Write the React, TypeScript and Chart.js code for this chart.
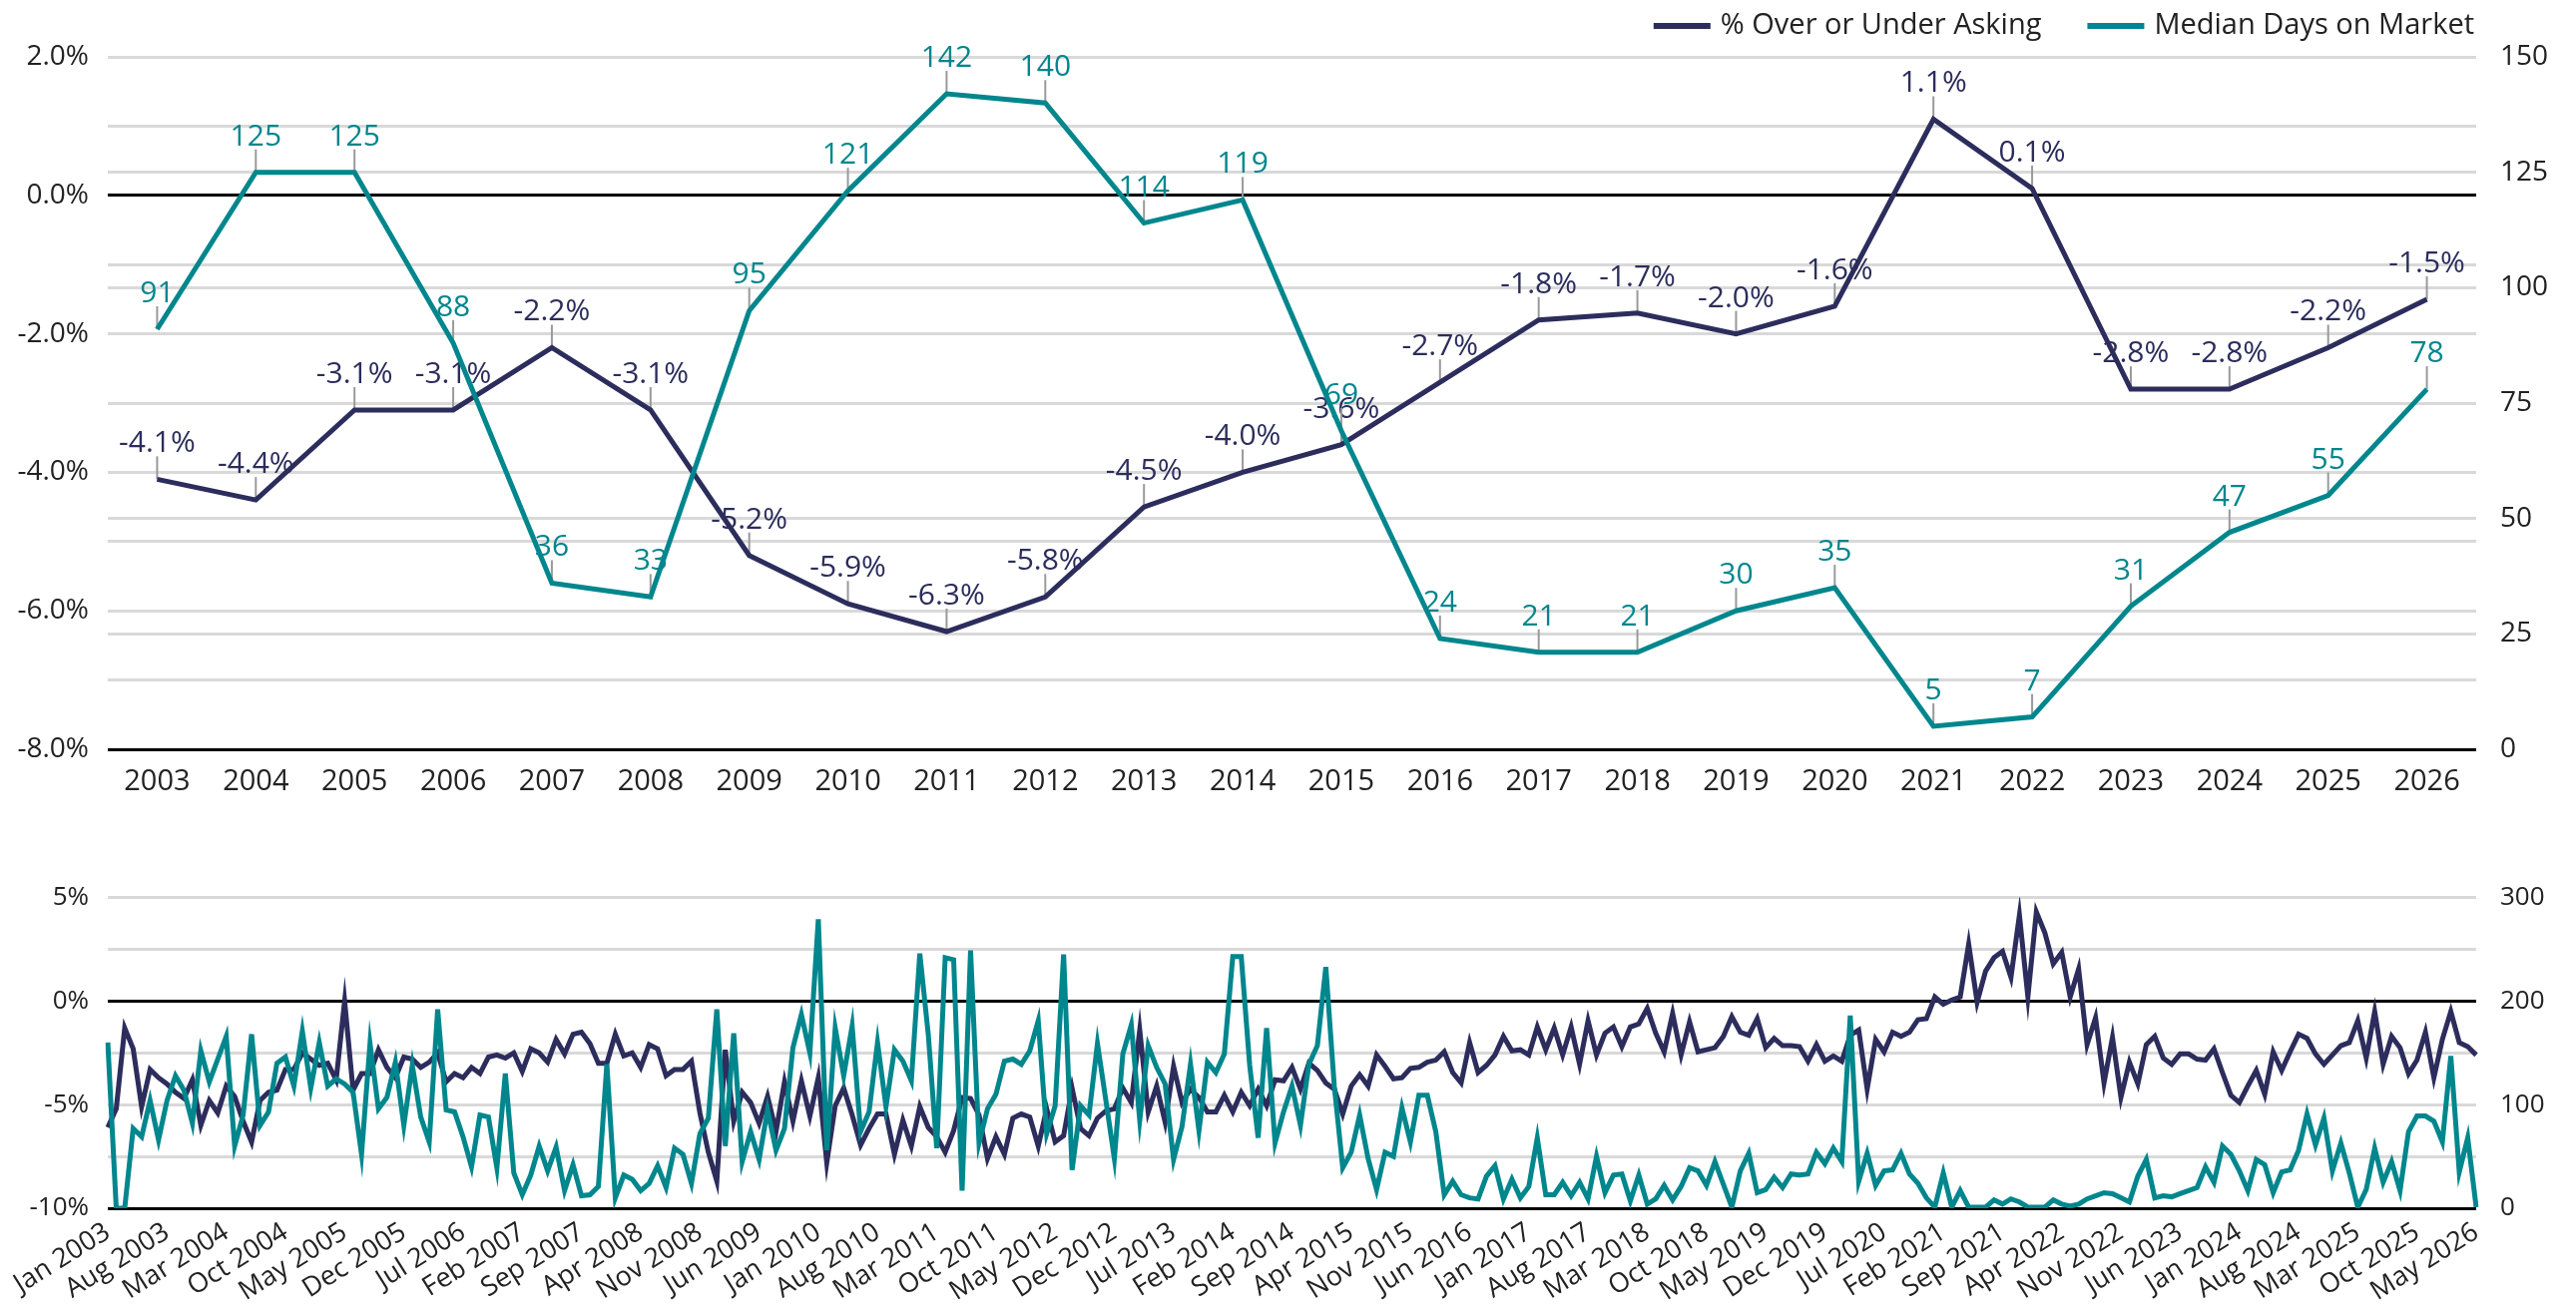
import React, { useEffect, useRef } from 'react';
import { Chart, registerables } from 'chart.js';

Chart.register(...registerables);

const FONT = "'Open Sans', 'Noto Sans', sans-serif";
const NAVY = '#2C2D5C';
const TEAL = '#00868D';
const GRID = '#D9D9D9';
const TEXT = '#222222';

const SERIES_NAMES = ['% Over or Under Asking', 'Median Days on Market'];

// ---- Annual (top chart) ----
const YEARS = ['2003', '2004', '2005', '2006', '2007', '2008', '2009', '2010', '2011', '2012', '2013', '2014',
  '2015', '2016', '2017', '2018', '2019', '2020', '2021', '2022', '2023', '2024', '2025', '2026'];
const OVER_ASKING_ANNUAL = [-4.1, -4.4, -3.1, -3.1, -2.2, -3.1, -5.2, -5.9, -6.3, -5.8, -4.5, -4.0,
  -3.6, -2.7, -1.8, -1.7, -2.0, -1.6, 1.1, 0.1, -2.8, -2.8, -2.2, -1.5];
const DAYS_ANNUAL = [91, 125, 125, 88, 36, 33, 95, 121, 142, 140, 114, 119,
  69, 24, 21, 21, 30, 35, 5, 7, 31, 47, 55, 78];
const LEFT_TICKS_TOP = { min: -8, max: 2, step: 1, labelEvery: 2 };
const RIGHT_TICKS_TOP = { min: 0, max: 150, step: 25 };

// ---- Monthly (bottom chart) ----
const MONTH_NAMES = ['Jan', 'Feb', 'Mar', 'Apr', 'May', 'Jun', 'Jul', 'Aug', 'Sep', 'Oct', 'Nov', 'Dec'];
const START_YEAR = 2003;
const LABEL_EVERY_N_MONTHS = 7;
const OVER_ASKING_MONTHLY = [
  -6.1, -5.2, -1.3, -2.3, -5.1, -3.3, -3.7, -4.0, -4.4, -4.7, -3.8, -6.0,
  -4.8, -5.4, -4.1, -4.6, -5.8, -6.8, -4.8, -4.4, -4.3, -3.3, -3.3, -2.5,
  -2.8, -3.1, -3.0, -3.8, 0.0, -4.3, -3.5, -3.5, -2.35, -3.2, -3.7, -2.7,
  -2.8, -3.2, -2.95, -2.5, -3.9, -3.5, -3.7, -3.2, -3.5, -2.7, -2.6, -2.75,
  -2.5, -3.4, -2.3, -2.5, -2.95, -1.85, -2.55, -1.6, -1.5, -2.05, -3.0, -3.0,
  -1.6, -2.65, -2.5, -3.2, -2.1, -2.3, -3.6, -3.3, -3.3, -2.9, -5.4, -7.3,
  -8.7, -2.35, -5.8, -4.4, -4.9, -5.9, -4.6, -6.3, -3.9, -5.8, -3.85, -5.55,
  -3.7, -7.8, -5.05, -4.2, -5.5, -6.95, -6.15, -5.45, -5.45, -7.4, -5.75, -7.0,
  -5.1, -6.1, -6.55, -7.3, -6.25, -4.65, -4.7, -5.5, -7.6, -6.55, -7.4, -5.65,
  -5.45, -5.6, -7.0, -5.2, -6.8, -6.5, -4.2, -6.15, -6.5, -5.65, -5.3, -5.2,
  -4.2, -4.9, -1.4, -5.35, -4.1, -5.85, -3.15, -4.9, -4.25, -4.65, -5.35, -5.35,
  -4.55, -5.35, -4.4, -5.05, -4.25, -5.05, -3.8, -3.85, -3.2, -4.25, -3.0, -3.35,
  -3.95, -4.25, -5.45, -4.1, -3.55, -4.1, -2.6, -3.15, -3.75, -3.7, -3.25, -3.2,
  -2.95, -2.85, -2.45, -3.45, -3.95, -2.0, -3.45, -3.1, -2.6, -1.7, -2.4, -2.35,
  -2.6, -1.25, -2.35, -1.3, -2.6, -1.25, -3.05, -0.95, -2.6, -1.55, -1.25, -2.2,
  -1.25, -1.1, -0.35, -1.55, -2.45, -0.6, -2.6, -1.0, -2.45, -2.35, -2.25, -1.7,
  -0.75, -1.5, -1.65, -0.85, -2.25, -1.8, -2.15, -2.15, -2.2, -2.9, -2.1, -2.9,
  -2.65, -2.9, -1.65, -1.4, -4.25, -1.85, -2.45, -1.5, -1.7, -1.5, -0.9, -0.85,
  0.2, -0.15, 0.05, 0.2, 2.75, -0.05, 1.45, 2.1, 2.4, 1.15, 4.15, 0.2,
  4.3, 3.3, 1.8, 2.35, 0.2, 1.55, -2.1, -0.8, -3.95, -1.75, -4.65, -2.95,
  -4.0, -2.1, -1.7, -2.75, -3.05, -2.55, -2.55, -2.8, -2.85, -2.3, -3.45, -4.55,
  -4.9, -4.1, -3.35, -4.5, -2.45, -3.35, -2.45, -1.6, -1.8, -2.55, -3.05, -2.6,
  -2.15, -2.0, -0.95, -2.75, -0.5, -3.05, -1.7, -2.25, -3.5, -2.85, -1.5, -3.7,
  -1.85, -0.5, -2.0, -2.2, -2.6,
];
const DAYS_MONTHLY = [
  160, 0, 0, 77, 69, 104, 66, 104, 128, 114, 82, 152,
  122, 144, 166, 60, 90, 168, 80, 93, 140, 146, 118, 171,
  116, 160, 118, 125, 120, 112, 52, 159, 96, 107, 141, 80,
  138, 88, 64, 192, 95, 93, 69, 40, 90, 88, 39, 130,
  34, 13, 32, 60, 36, 59, 17, 42, 12, 13, 21, 139,
  10, 32, 28, 17, 24, 41, 20, 58, 52, 24, 72, 87,
  192, 60, 169, 45, 74, 47, 95, 56, 77, 155, 187, 150,
  279, 56, 174, 128, 176, 74, 93, 160, 98, 153, 142, 123,
  246, 168, 58, 242, 240, 17, 249, 63, 96, 110, 142, 144,
  139, 152, 181, 72, 99, 245, 37, 99, 90, 159, 104, 48,
  149, 177, 85, 157, 136, 120, 47, 79, 139, 75, 141, 131,
  149, 243, 243, 138, 68, 174, 63, 93, 118, 80, 139, 157,
  233, 118, 39, 54, 90, 48, 18, 54, 50, 97, 64, 109,
  109, 74, 13, 26, 13, 10, 9, 31, 41, 9, 28, 10,
  21, 68, 13, 13, 25, 12, 25, 9, 50, 15, 32, 33,
  7, 32, 4, 9, 22, 8, 21, 39, 36, 22, 45, 23,
  1, 36, 53, 15, 18, 30, 20, 33, 32, 33, 54, 43,
  58, 45, 186, 26, 53, 22, 36, 37, 53, 33, 24, 10,
  1, 34, 1, 17, 1, 1, 1, 8, 4, 9, 6, 1,
  1, 1, 8, 4, 2, 4, 9, 12, 15, 14, 10, 6,
  31, 47, 10, 12, 11, 14, 17, 20, 40, 25, 60, 52,
  36, 17, 47, 42, 15, 35, 37, 56, 91, 61, 87, 36,
  63, 34, 1, 18, 58, 25, 45, 17, 74, 89, 89, 84,
  64, 147, 35, 68, 1,
];
const LEFT_TICKS_BOTTOM = { min: -10, max: 5, step: 2.5, labelEvery: 5 };
const RIGHT_TICKS_BOTTOM = { min: 0, max: 300, step: 100 };

const MONTH_LABELS: string[] = OVER_ASKING_MONTHLY.map(
  (_, i) => `${MONTH_NAMES[i % 12]} ${START_YEAR + Math.floor(i / 12)}`
);

const CANVAS_W = 2581;
const TOP_H = 805;
const BOTTOM_TOP = 860;
const BOTTOM_H = 450;

const legendPlugin = {
  id: 'rightLegend',
  afterDraw(chart: any) {
    const ctx = chart.ctx;
    const area = chart.chartArea;
    ctx.save();
    ctx.font = `400 29px ${FONT}`;
    ctx.textBaseline = 'middle';
    ctx.textAlign = 'left';
    const y = 26;
    const swatch = 57;
    const gapText = 10;
    const gapItem = 46;
    const items = chart.data.datasets.map((ds: any) => ({
      text: ds.label,
      color: ds.borderColor,
      w: ctx.measureText(ds.label).width,
    }));
    const total = items.reduce((s: number, it: any) => s + swatch + gapText + it.w, 0) + gapItem * (items.length - 1);
    let x = area.right - 2 - total;
    items.forEach((it: any) => {
      ctx.fillStyle = it.color;
      ctx.fillRect(x, y - 3, swatch, 6);
      x += swatch + gapText;
      ctx.fillStyle = TEXT;
      ctx.fillText(it.text, x, y);
      x += it.w + gapItem;
    });
    ctx.restore();
  },
};

const pointLabelPlugin = {
  id: 'pointLabels',
  beforeDatasetsDraw(chart: any) {
    const ctx = chart.ctx;
    ctx.save();
    chart.data.datasets.forEach((ds: any, di: number) => {
      const meta = chart.getDatasetMeta(di);
      meta.data.forEach((pt: any, i: number) => {
        const v = ds.data[i];
        const { x, y } = pt;
        ctx.strokeStyle = '#9A9A9A';
        ctx.lineWidth = 2;
        ctx.beginPath();
        ctx.moveTo(x, y);
        ctx.lineTo(x, y - 23);
        ctx.stroke();
        ctx.fillStyle = ds.borderColor;
        ctx.font = `400 30px ${FONT}`;
        ctx.textAlign = 'center';
        ctx.textBaseline = 'alphabetic';
        const text = ds.yAxisID === 'y' ? `${v.toFixed(1)}%` : String(v);
        ctx.fillText(text, x, y - 27);
      });
    });
    ctx.restore();
  },
};

function isNear(a: number, b: number) {
  return Math.abs(a - b) < 1e-6;
}

export default function App() {
  const topRef = useRef<HTMLCanvasElement>(null);
  const bottomRef = useRef<HTMLCanvasElement>(null);

  useEffect(() => {
    Chart.defaults.font.family = FONT;

    const top = new Chart(topRef.current as HTMLCanvasElement, {
      type: 'line',
      data: {
        labels: YEARS,
        datasets: [
          {
            label: SERIES_NAMES[0],
            data: OVER_ASKING_ANNUAL,
            borderColor: NAVY,
            backgroundColor: NAVY,
            borderWidth: 5,
            pointRadius: 0,
            yAxisID: 'y',
            order: 1,
          },
          {
            label: SERIES_NAMES[1],
            data: DAYS_ANNUAL,
            borderColor: TEAL,
            backgroundColor: TEAL,
            borderWidth: 5,
            pointRadius: 0,
            yAxisID: 'y1',
            order: 0,
          },
        ],
      },
      options: {
        responsive: false,
        animation: false,
        layout: { padding: { top: 57, left: 0, right: 0, bottom: 0 } },
        plugins: { legend: { display: false }, tooltip: { enabled: false } },
        scales: {
          x: {
            offset: true,
            grid: { display: false, drawTicks: false },
            border: { display: false },
            ticks: { color: TEXT, font: { size: 29 }, padding: 15, maxRotation: 0, autoSkip: false },
            afterFit: (s: any) => { s.height = 54; },
          },
          y: {
            position: 'left',
            min: LEFT_TICKS_TOP.min,
            max: LEFT_TICKS_TOP.max,
            ticks: {
              stepSize: LEFT_TICKS_TOP.step,
              color: TEXT,
              font: { size: 28 },
              padding: 19,
              callback: (v: any) => (isNear(v % LEFT_TICKS_TOP.labelEvery, 0) ? `${Number(v).toFixed(1)}%` : ''),
            },
            grid: {
              drawTicks: false,
              lineWidth: 3,
              color: (c: any) => (isNear(c.tick.value, 0) || isNear(c.tick.value, LEFT_TICKS_TOP.min) ? '#000000' : GRID),
            },
            border: { display: false },
            afterFit: (s: any) => { s.width = 108; },
          },
          y1: {
            position: 'right',
            min: RIGHT_TICKS_TOP.min,
            max: RIGHT_TICKS_TOP.max,
            ticks: { stepSize: RIGHT_TICKS_TOP.step, color: TEXT, font: { size: 28 }, padding: 24 },
            grid: {
              drawTicks: false,
              lineWidth: 3,
              color: (c: any) => (isNear(c.tick.value, RIGHT_TICKS_TOP.min) || isNear(c.tick.value, RIGHT_TICKS_TOP.max) ? 'rgba(0,0,0,0)' : GRID),
            },
            border: { display: false },
            afterFit: (s: any) => { s.width = CANVAS_W - 2481; },
          },
        },
      } as any,
      plugins: [legendPlugin, pointLabelPlugin],
    });

    const bottom = new Chart(bottomRef.current as HTMLCanvasElement, {
      type: 'line',
      data: {
        labels: MONTH_LABELS,
        datasets: [
          {
            label: SERIES_NAMES[0],
            data: OVER_ASKING_MONTHLY,
            borderColor: NAVY,
            backgroundColor: NAVY,
            borderWidth: 5,
            pointRadius: 0,
            yAxisID: 'y',
            order: 1,
          },
          {
            label: SERIES_NAMES[1],
            data: DAYS_MONTHLY,
            borderColor: TEAL,
            backgroundColor: TEAL,
            borderWidth: 5,
            pointRadius: 0,
            yAxisID: 'y1',
            order: 0,
          },
        ],
      },
      options: {
        responsive: false,
        animation: false,
        layout: { padding: { top: 37, left: 0, right: 0, bottom: 0 } },
        plugins: { legend: { display: false }, tooltip: { enabled: false } },
        scales: {
          x: {
            grid: { display: false, drawTicks: false },
            border: { display: false },
            ticks: {
              color: TEXT,
              font: { size: 27 },
              padding: 8,
              autoSkip: false,
              minRotation: 32,
              maxRotation: 32,
              callback: (_v: any, i: number) => (i % LABEL_EVERY_N_MONTHS === 0 ? MONTH_LABELS[i] : null),
            },
            afterFit: (s: any) => { s.height = BOTTOM_TOP + BOTTOM_H - 1211; },
          },
          y: {
            position: 'left',
            min: LEFT_TICKS_BOTTOM.min,
            max: LEFT_TICKS_BOTTOM.max,
            ticks: {
              stepSize: LEFT_TICKS_BOTTOM.step,
              color: TEXT,
              font: { size: 26 },
              padding: 19,
              callback: (v: any) => (isNear(v % LEFT_TICKS_BOTTOM.labelEvery, 0) ? `${v}%` : ''),
            },
            grid: {
              drawTicks: false,
              lineWidth: 3,
              color: (c: any) => (isNear(c.tick.value, 0) || isNear(c.tick.value, LEFT_TICKS_BOTTOM.min) ? '#000000' : GRID),
            },
            border: { display: false },
            afterFit: (s: any) => { s.width = 108; },
          },
          y1: {
            position: 'right',
            min: RIGHT_TICKS_BOTTOM.min,
            max: RIGHT_TICKS_BOTTOM.max,
            ticks: { stepSize: RIGHT_TICKS_BOTTOM.step, color: TEXT, font: { size: 26 }, padding: 24 },
            grid: { drawOnChartArea: false, drawTicks: false },
            border: { display: false },
            afterFit: (s: any) => { s.width = CANVAS_W - 2481; },
          },
        },
      } as any,
    });

    return () => {
      top.destroy();
      bottom.destroy();
    };
  }, []);

  return (
    <div style={{ position: 'absolute', left: 0, top: 0, width: CANVAS_W, height: 1310, background: '#ffffff' }}>
      <canvas ref={topRef} width={CANVAS_W} height={TOP_H} style={{ position: 'absolute', left: 0, top: 0, display: 'block' }} />
      <canvas ref={bottomRef} width={CANVAS_W} height={BOTTOM_H} style={{ position: 'absolute', left: 0, top: BOTTOM_TOP, display: 'block' }} />
    </div>
  );
}
